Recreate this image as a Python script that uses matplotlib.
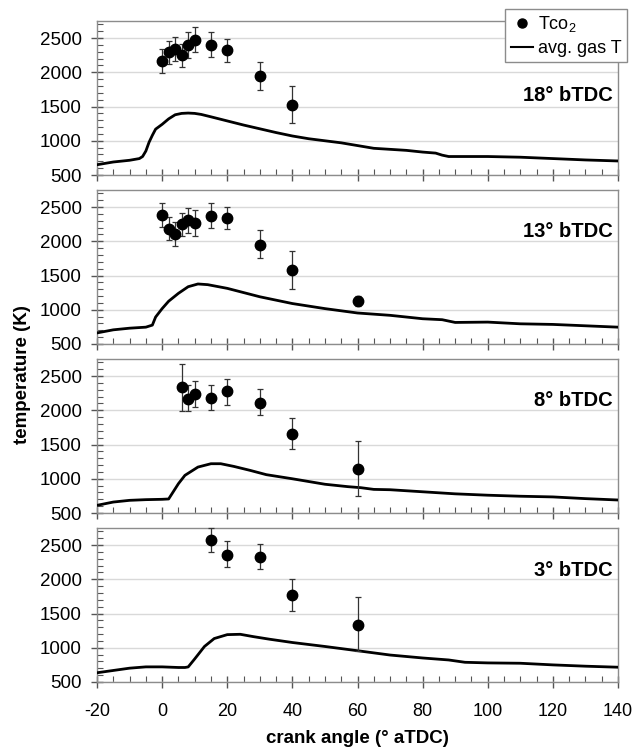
import numpy as np
import matplotlib
matplotlib.use("Agg")
import matplotlib.pyplot as plt
from matplotlib.ticker import MultipleLocator
from matplotlib.lines import Line2D

plt.rcParams['font.family'] = ['Liberation Sans', 'DejaVu Sans']
plt.rcParams['mathtext.fontset'] = 'custom'
plt.rcParams['mathtext.rm'] = 'Liberation Sans'
plt.rcParams['mathtext.it'] = 'Liberation Sans'
plt.rcParams['axes.unicode_minus'] = False

# panel labels (spark timing)
labels = ['18° bTDC', '13° bTDC', '8° bTDC', '3° bTDC']
label_y = [1660, 2140, 2150, 2130]

# measured CO2 temperature: crank angle, value, lower / upper error bar end
pt_x = [
    [0, 2, 4, 6, 8, 10, 15, 20, 30, 40],
    [0, 2, 4, 6, 8, 10, 15, 20, 30, 40, 60],
    [6, 8, 10, 15, 20, 30, 40, 60],
    [15, 20, 30, 40, 60],
]
pt_y = [
    [2165, 2290, 2335, 2255, 2405, 2470, 2400, 2330, 1950, 1520],
    [2380, 2185, 2100, 2250, 2305, 2275, 2370, 2335, 1950, 1585, 1130],
    [2335, 2170, 2240, 2185, 2280, 2110, 1655, 1150],
    [2575, 2350, 2325, 1775, 1340],
]
pt_lo = [
    [1985, 2115, 2165, 2085, 2215, 2290, 2225, 2155, 1745, 1255],
    [2215, 2015, 1925, 2085, 2125, 2085, 2195, 2175, 1755, 1305, 1060],
    [1985, 1985, 2045, 2000, 2080, 1925, 1430, 750],
    [2400, 2175, 2145, 1540, 955],
]
pt_hi = [
    [2335, 2460, 2520, 2420, 2585, 2660, 2585, 2490, 2155, 1800],
    [2560, 2360, 2285, 2410, 2480, 2460, 2560, 2505, 2165, 1860, 1200],
    [2680, 2365, 2435, 2365, 2460, 2305, 1885, 1555],
    [2755, 2555, 2520, 2000, 1740],
]

# average gas temperature curves
gas_x = [
    [-20, -15, -10, -7, -6, -5, -4, -3, -2, 0, 2, 4, 6, 8, 10, 12, 15, 20, 25, 30,
     35, 40, 45, 50, 55, 60, 65, 70, 75, 80, 84, 86, 88, 95, 100, 110, 120, 130, 140],
    [-20, -15, -10, -5, -3, -2, 0, 2, 5, 8, 11, 14, 20, 30, 40, 50, 60, 70, 80,
     86, 90, 100, 110, 120, 130, 140],
    [-20, -15, -10, -5, 0, 2, 5, 7, 11, 15, 18, 22, 27, 32, 40, 50, 57, 61, 65,
     70, 80, 90, 100, 110, 120, 130, 140],
    [-20, -10, -5, 0, 5, 7, 8, 10, 13, 16, 20, 24, 28, 33, 40, 50, 60, 70, 80,
     88, 93, 100, 110, 120, 130, 140],
]
gas_y = [
    [650, 690, 715, 740, 770, 850, 980, 1080, 1170, 1240, 1320, 1380, 1400, 1405,
     1400, 1385, 1350, 1290, 1230, 1175, 1120, 1070, 1030, 1000, 970, 930, 890,
     875, 860, 835, 820, 790, 770, 770, 770, 760, 740, 720, 705],
    [662, 707, 731, 746, 776, 894, 1017, 1125, 1240, 1337, 1377, 1367, 1313, 1190,
     1091, 1017, 953, 919, 869, 855, 815, 820, 795, 786, 766, 746],
    [612, 660, 685, 695, 700, 705, 928, 1050, 1171, 1220, 1220, 1181, 1123, 1060,
     1000, 920, 885, 870, 845, 840, 810, 780, 760, 745, 735, 710, 690],
    [635, 702, 721, 721, 712, 712, 720, 837, 1019, 1135, 1192, 1197, 1163, 1125,
     1077, 1019, 957, 894, 851, 822, 788, 779, 774, 750, 731, 716],
]

W, H = 635, 749
fig = plt.figure(figsize=(W / 100, H / 100), dpi=100)

left, right = 97, 618
tops = [21, 190, 359, 528]
ph = 154
spine_c = '#8c8c8c'

axes = []
for i in range(4):
    ax = fig.add_axes([left / W, 1 - (tops[i] + ph) / H, (right - left) / W, ph / H])
    axes.append(ax)
    ax.set_xlim(-20, 140)
    ax.set_ylim(500, 2750)
    ax.yaxis.set_major_locator(MultipleLocator(500))
    ax.yaxis.set_minor_locator(MultipleLocator(100))
    ax.xaxis.set_major_locator(MultipleLocator(20))
    ax.xaxis.set_minor_locator(MultipleLocator(5))
    ax.grid(axis='y', color='#d9d9d9', lw=1.0, zorder=0)
    ax.set_axisbelow(True)
    for s in ax.spines.values():
        s.set_color(spine_c)
        s.set_linewidth(1.0)
    ax.tick_params(which='major', direction='inout', length=8, width=1.0,
                   color='#555555', labelsize=13.5, top=False, right=False)
    ax.tick_params(which='minor', direction='in', length=4, width=0.8,
                   color='#555555', top=False, right=False)
    ax.tick_params(axis='x', which='major', pad=11, labelsize=13)
    ax.tick_params(axis='y', which='major', pad=7)
    if i < 3:
        ax.tick_params(axis='x', labelbottom=False)

    ax.plot(gas_x[i], gas_y[i], color='black', lw=2.0, zorder=3)
    y = np.array(pt_y[i])
    yerr = [y - np.array(pt_lo[i]), np.array(pt_hi[i]) - y]
    ax.errorbar(pt_x[i], y, yerr=yerr, fmt='o', color='black', ms=7.5,
                ecolor='#333333', elinewidth=0.9, capsize=2.5, capthick=0.9,
                zorder=4, clip_on=False)
    ax.text(0.99, label_y[i], labels[i], transform=ax.get_yaxis_transform(),
            ha='right', va='center', fontsize=14.5, fontweight='bold')

axes[3].set_xlabel('crank angle (° aTDC)', fontsize=13.5, fontweight='bold', labelpad=7)
fig.text(0.035, 0.5, 'temperature (K)', rotation=90, ha='center', va='center',
         fontsize=13.5, fontweight='bold')

handles = [
    Line2D([], [], marker='o', ls='none', color='black', ms=6.5),
    Line2D([], [], color='black', lw=1.5),
]
leg = fig.legend(handles, ['Tco$_2$', 'avg. gas T'], loc='upper right',
                 bbox_to_anchor=(627 / W, 1 - 9 / H), fontsize=13,
                 frameon=True, fancybox=False, framealpha=1,
                 edgecolor=spine_c, handlelength=1.2, handletextpad=0.3,
                 borderpad=0.3, labelspacing=0.3, borderaxespad=0)
leg.get_frame().set_linewidth(1.0)

fig.savefig('out.png', dpi=100)
